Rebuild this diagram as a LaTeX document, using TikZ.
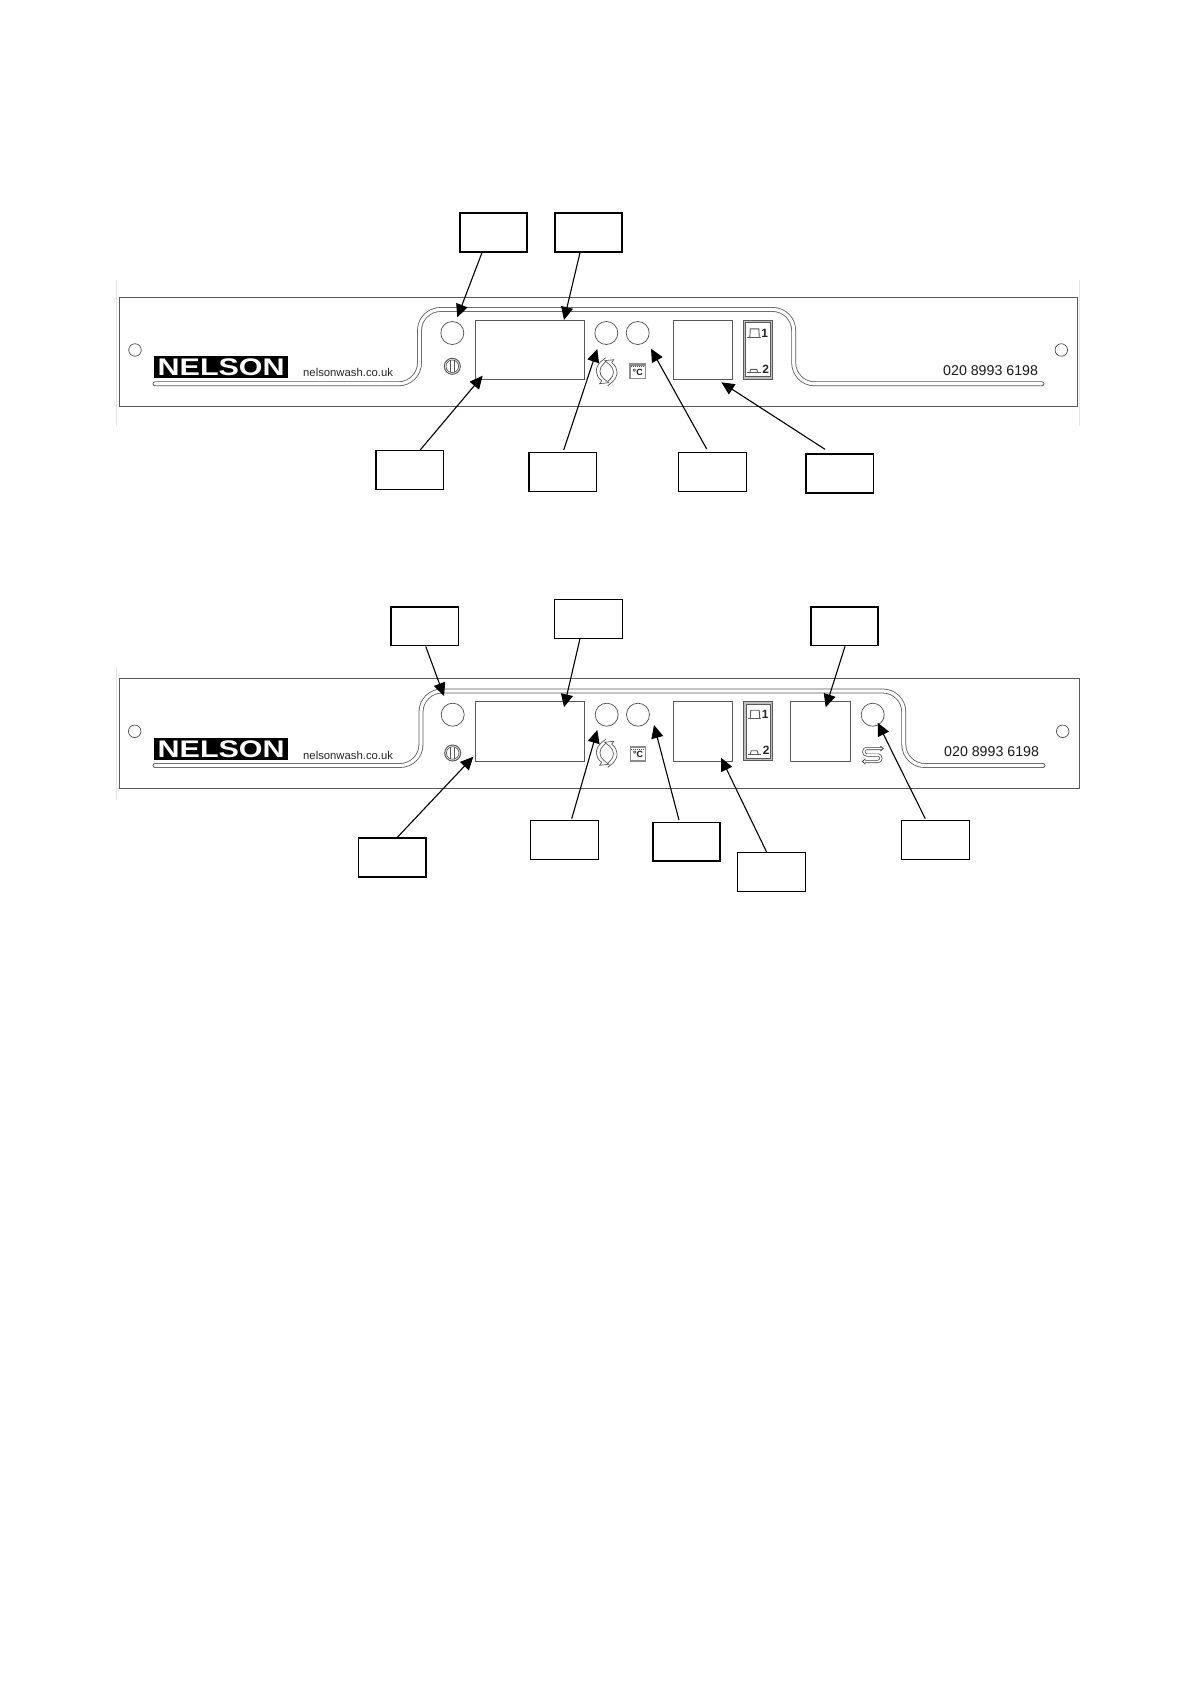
\documentclass[tikz,border=0pt]{standalone}
\usepackage{fontspec}
\setmainfont{Liberation Sans}
\usetikzlibrary{arrows.meta}

\tikzset{
    panelline/.style={draw=black!65, line width=.9pt},
    groove/.style={draw=black!65, line width=.8pt, double=white, double distance=3.2pt, line cap=round, rounded corners=21pt},
    thinpart/.style={draw=black!65, line width=.7pt},
    lamp/.style={circle, draw=black!70, line width=.7pt, minimum size=23pt, inner sep=0pt},
    screwhole/.style={circle, draw=black!70, line width=.7pt, minimum size=12.5pt, inner sep=0pt},
    tagbox/.style={draw=black, line width=1.1pt, minimum width=67.5pt, minimum height=38.5pt, inner sep=0pt},
    tagboxheavy/.style={tagbox, line width=1.7pt},
    logobox/.style={fill=black, text=white, minimum width=133.5pt, minimum height=22pt, inner sep=0pt, font=\bfseries\fontsize{24}{24}\selectfont},
    webtext/.style={text=black!85, inner sep=0pt, anchor=base west, font=\fontsize{11.3}{12}\selectfont},
    phonetext/.style={text=black!90, inner sep=0pt, anchor=base west, font=\fontsize{14.2}{15}\selectfont},
    callout/.style={-{Triangle[length=13pt,width=12pt]}, line width=1.1pt}
}

% icons, drawn round their centre
\newcommand{\powericon}[2]{
    \draw[thinpart, line width=1pt] (#1,#2) circle (8);
    \draw[thinpart] (#1,#2) circle (6.3);
    \draw[thinpart, line width=.9pt] (#1-2,#2-6) -- (#1-2,#2+6);
    \draw[thinpart, line width=.9pt] (#1+2,#2-6) -- (#1+2,#2+6);
}
\newcommand{\cycleicon}[2]{
    \begin{scope}[shift={(#1,#2)}]
        \draw[thinpart] (-1,-14) -- (-6,-10) .. controls (-12,-4) and (-12,4) .. (-5,9);
        \draw[thinpart] (-1,-10) -- (-3,-8) .. controls (-8,-4) and (-8,3) .. (-3,7);
        \draw[thinpart] (1,14) -- (6,10) .. controls (12,4) and (12,-4) .. (5,-9);
        \draw[thinpart] (1,10) -- (3,8) .. controls (8,4) and (8,-3) .. (3,-7);
        \draw[thinpart] (-5,9) -- (-7,12) -- (2,11) -- (-3,7);
        \draw[thinpart] (5,-9) -- (7,-12) -- (-2,-11) -- (3,-7);
    \end{scope}
}
\newcommand{\tankicon}[2]{
    \begin{scope}[shift={(#1,#2)}]
        \fill[black!45] (-8.3,-8) rectangle (8.3,8);
        \fill[white] (-6.8,-5.5) rectangle (6.8,6.5);
        \draw[black!70, densely dotted, line width=1pt] (-7,-4.5) -- (7,-4.5);
        \node[inner sep=0pt, text=black!90, font=\bfseries\fontsize{9}{9}\selectfont] (tank#1) at (0,1.3) {°C};
    \end{scope}
}
\newcommand{\switchicon}[2]{
    \begin{scope}[shift={(#1,#2)}]
        \draw[thinpart, line width=1pt, fill=black!25] (0,0) rectangle (29,58.7);
        \draw[thinpart, fill=white] (2.4,2.4) rectangle (26.6,56.3);
        \draw[thinpart] (4,17) -- (17.4,17);
        \draw[thinpart, line width=.9pt] (6.5,17) -- (7,8.5) -- (15.5,8.5) -- (16,17);
        \draw[thinpart] (4,52.4) -- (17.4,52.4);
        \draw[thinpart, line width=.9pt] (6.5,52.4) -- (7.5,49) -- (13.5,49) -- (14.5,52.4);
        \node[inner sep=0pt, text=black!85, font=\bfseries\fontsize{12}{12}\selectfont] (one#1) at (21.4,13) {1};
        \node[inner sep=0pt, text=black!85, font=\bfseries\fontsize{12}{12}\selectfont] (two#1) at (22.4,48.7) {2};
    \end{scope}
}
\newcommand{\loopicon}[2]{
    \begin{scope}[shift={(#1,#2)}]
        \draw[black!75, line width=.7pt, double=white, double distance=1.6pt, rounded corners=3pt] (9,-6.5) -- (-8.5,-6.5) -- (-8.5,0) -- (8.5,0) -- (8.5,6.5) -- (-7,6.5);
        \draw[black!75, line width=.8pt] (8,-9) -- (11,-6.5) -- (8,-4);
        \draw[black!75, line width=.8pt] (-7,4) -- (-10,6.5) -- (-7,9);
    \end{scope}
}

\begin{document}
\begin{tikzpicture}[x=1pt, y=-1pt]
    \useasboundingbox (0,0) rectangle (1191,1684);

    % upper panel
    \draw[black!10] (116.5,280) -- (116.5,426);
    \draw[black!10] (1079.5,280) -- (1079.5,426);
    \draw[panelline] (119.3,297.3) rectangle (1077.3,406.7);
    \draw[groove] (155,383.8) -- (419.5,383.8) -- (419.5,309.5) -- (793.7,309.5) -- (793.7,383.8) -- (1042,383.8);
    \node[screwhole] (holeL) at (135,350) {};
    \node[screwhole] (holeR) at (1061.3,350) {};
    \node[logobox] (logo) at (221.2,367) {\scalebox{1.27}[1]{NELSON}};
    \node[webtext] (web) at (303,376.8) {nelsonwash.co.uk};
    \node[phonetext] (phone) at (943,375) {020 8993 6198};
    \node[lamp] (power) at (452.3,333) {};
    \node[lamp] (cycle) at (606.3,333) {};
    \node[lamp] (heat) at (637.7,333) {};
    \draw[thinpart] (475.7,320.3) rectangle (584,379);
    \draw[thinpart] (673,320.3) rectangle (732.3,379);
    \powericon{452.3}{366.3}
    \cycleicon{606.7}{371.7}
    \tankicon{637.7}{371.2}
    \switchicon{743.3}{320.3}

    \node[tagboxheavy] (tagA) at (493.5,232.5) {};
    \node[tagboxheavy] (tagB) at (588.5,232.5) {};
    \node[tagbox] (tagC) at (409.7,470) {};
    \node[tagbox] (tagD) at (562.7,471.8) {};
    \node[tagbox] (tagE) at (712.5,471.8) {};
    \node[tagboxheavy] (tagF) at (839.7,473.4) {};

    \coordinate (tipA) at (457.3,317.3);
    \coordinate (tipB) at (564,320);
    \coordinate (tipC) at (482.7,375.7);
    \coordinate (tipD) at (597.3,349);
    \coordinate (tipE) at (651,348.7);
    \coordinate (tipF) at (721.3,382.3);

    \draw[callout] ([xshift=-11.5pt]tagA.south) -- (tipA);
    \draw[callout] ([xshift=-8.5pt]tagB.south) -- (tipB);
    \draw[callout] ([xshift=10.3pt]tagC.north) -- (tipC);
    \draw[callout] ([xshift=1pt,yshift=2pt]tagD.north) -- (tipD);
    \draw[callout] ([xshift=-5.8pt,yshift=3pt]tagE.north) -- (tipE);
    \draw[callout] ([xshift=-14.7pt,yshift=4pt]tagF.north) -- (tipF);

    % lower panel
    \draw[black!10] (116.5,667) -- (116.5,800);
    \draw[panelline] (119.3,678.3) rectangle (1079,788.3);
    \draw[groove] (155,765.5) -- (421,765.5) -- (421,691) -- (903.8,691) -- (903.8,765.5) -- (1043,765.5);
    \node[screwhole] (holeLL) at (134.7,731.3) {};
    \node[screwhole] (holeLR) at (1062.7,731.3) {};
    \node[logobox] (logoL) at (221.2,749.3) {\scalebox{1.27}[1]{NELSON}};
    \node[webtext] (webL) at (303,759.3) {nelsonwash.co.uk};
    \node[phonetext] (phoneL) at (944,756) {020 8993 6198};
    \node[lamp] (powerL) at (452.7,714.7) {};
    \node[lamp] (cycleL) at (606.7,714.7) {};
    \node[lamp] (heatL) at (638,714.7) {};
    \node[lamp] (loopL) at (872.7,714.7) {};
    \draw[thinpart] (475.7,701.7) rectangle (584.7,761);
    \draw[thinpart] (673.7,701.7) rectangle (732.7,761);
    \draw[thinpart] (790.7,701.7) rectangle (850,761);
    \powericon{452.7}{753}
    \cycleicon{606.7}{753.3}
    \tankicon{638.1}{753.5}
    \switchicon{743.7}{701.7}
    \loopicon{872.3}{755}

    \node[tagboxheavy] (tagG) at (424.7,626.3) {};
    \node[tagbox] (tagH) at (588.5,618.8) {};
    \node[tagboxheavy] (tagI) at (844.5,626.3) {};
    \node[tagboxheavy] (tagJ) at (392.3,857.5) {};
    \node[tagbox] (tagK) at (564.5,839.8) {};
    \node[tagboxheavy] (tagL) at (686.5,841.8) {};
    \node[tagbox] (tagM) at (771.3,872) {};
    \node[tagbox] (tagN) at (935.5,839.8) {};

    \coordinate (tipG) at (444,696);
    \coordinate (tipH) at (564,707.3);
    \coordinate (tipI) at (825.7,707.3);
    \coordinate (tipJ) at (473.3,756.7);
    \coordinate (tipK) at (597.3,730);
    \coordinate (tipL) at (654,725);
    \coordinate (tipM) at (721,757.7);
    \coordinate (tipN) at (877.7,722.7);

    \draw[callout] ([xshift=1pt]tagG.south) -- (tipG);
    \draw[callout] ([xshift=-8.5pt]tagH.south) -- (tipH);
    \draw[callout] ([xshift=.5pt]tagI.south) -- (tipI);
    \draw[callout] ([xshift=5pt]tagJ.north) -- (tipJ);
    \draw[callout] ([xshift=7.2pt,yshift=1.3pt]tagK.north) -- (tipK);
    \draw[callout] ([xshift=-7.5pt,yshift=1.6pt]tagL.north) -- (tipL);
    \draw[callout] ([xshift=-4.6pt]tagM.north) -- (tipM);
    \draw[callout] ([xshift=-10.2pt,yshift=1.3pt]tagN.north) -- (tipN);
\end{tikzpicture}
\end{document}
